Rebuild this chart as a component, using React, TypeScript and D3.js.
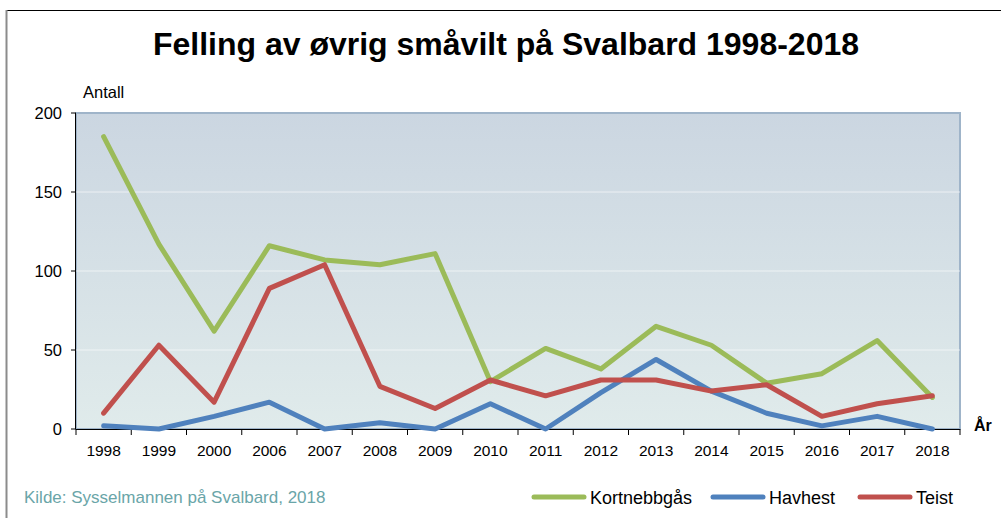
import React from 'react';
import * as d3 from 'd3';

const years = ['1998', '1999', '2000', '2006', '2007', '2008', '2009', '2010', '2011', '2012', '2013', '2014', '2015', '2016', '2017', '2018'];
const kortnebbgas = [185, 117, 62, 116, 107, 104, 111, 30, 51, 38, 65, 53, 29, 35, 56, 20];
const havhest = [2, 0, 8, 17, 0, 4, 0, 16, 0, 23, 44, 24, 10, 2, 8, 0];
const teist = [10, 53, 17, 89, 104, 27, 13, 31, 21, 31, 31, 24, 28, 8, 16, 21];
const yTicks = [0, 50, 100, 150, 200];

const series = [
  { name: 'Kortnebbgås', values: kortnebbgas, color: '#9bbb59' },
  { name: 'Havhest', values: havhest, color: '#4f81bd' },
  { name: 'Teist', values: teist, color: '#c0504d' },
];
const legendX = [534, 713, 860];

const W = 1002, H = 518;
const left = 76, right = 960, top = 113, bottom = 429;
const font = 'Liberation Sans, Arial, sans-serif';

export default function App() {
  const x = d3.scaleBand<string>().domain(years).range([left, right]);
  const y = d3.scaleLinear().domain([0, 200]).range([bottom, top]);
  const line = d3.line<number>().x((_, i) => (x(years[i]) as number) + x.bandwidth() / 2).y((d) => y(d));

  return (
    <svg width={W} height={H} style={{ position: 'absolute', left: 0, top: 0, fontFamily: font }}>
      <defs>
        <linearGradient id="bg" x1="0" y1="0" x2="0" y2="1">
          <stop offset="0" stopColor="#cbd6e1" />
          <stop offset="1" stopColor="#e0ebeb" />
        </linearGradient>
      </defs>
      <rect x={0} y={0} width={W} height={H} fill="#fff" />
      {/* outer frame */}
      <line x1={7} y1={10.5} x2={1001} y2={10.5} stroke="#000" strokeWidth={1} />
      <line x1={6.5} y1={10} x2={6.5} y2={H} stroke="#8c8c8c" strokeWidth={2} />

      <text x={506} y={55} textAnchor="middle" fontSize={32} fontWeight="bold" fill="#000">
        Felling av øvrig småvilt på Svalbard 1998-2018
      </text>
      <text x={83} y={98} fontSize={16.5} fill="#000">Antall</text>

      {/* plot area */}
      <rect x={left} y={top} width={right - left} height={bottom - top} fill="url(#bg)" stroke="#9fb4c9" strokeWidth={2} />
      {yTicks.filter((t) => t > 0 && t < 200).map((t) => (
        <line key={t} x1={left} x2={right} y1={y(t)} y2={y(t)} stroke="#ffffff" strokeOpacity={0.6} strokeWidth={1} />
      ))}

      {/* y axis */}
      <line x1={left - 0.5} x2={left - 0.5} y1={top} y2={bottom} stroke="#000" strokeWidth={1} />
      {yTicks.map((t) => (
        <g key={t}>
          <line x1={left - 5} x2={left} y1={y(t)} y2={y(t)} stroke="#000" />
          <text x={62} y={y(t) + 6} textAnchor="end" fontSize={16.5} fill="#000">{t}</text>
        </g>
      ))}

      {/* x axis */}
      <line x1={left} x2={right} y1={bottom + 0.5} y2={bottom + 0.5} stroke="#000" strokeWidth={1} />
      {years.map((yr) => (
        <line key={yr} x1={(x(yr) as number)} x2={(x(yr) as number)} y1={bottom} y2={bottom + 6} stroke="#000" />
      ))}
      <line x1={right} x2={right} y1={bottom} y2={bottom + 6} stroke="#000" />
      {years.map((yr) => (
        <text key={yr} x={(x(yr) as number) + x.bandwidth() / 2} y={456} textAnchor="middle" fontSize={15.5} fill="#000">{yr}</text>
      ))}
      <text x={974} y={431} fontSize={16} fontWeight="bold" fill="#000">År</text>

      {/* series */}
      {series.map((s) => (
        <path key={s.name} d={line(s.values) as string} fill="none" stroke={s.color} strokeWidth={5} strokeLinejoin="round" strokeLinecap="round" />
      ))}

      <text x={24} y={503} fontSize={17} fill="#6aa5a8">Kilde: Sysselmannen på Svalbard, 2018</text>

      {/* legend */}
      {series.map((s, i) => (
        <g key={s.name}>
          <line x1={legendX[i]} x2={legendX[i] + 50} y1={497} y2={497} stroke={s.color} strokeWidth={5} strokeLinecap="round" />
          <text x={legendX[i] + 56} y={504} fontSize={18} fill="#000">{s.name}</text>
        </g>
      ))}
    </svg>
  );
}
